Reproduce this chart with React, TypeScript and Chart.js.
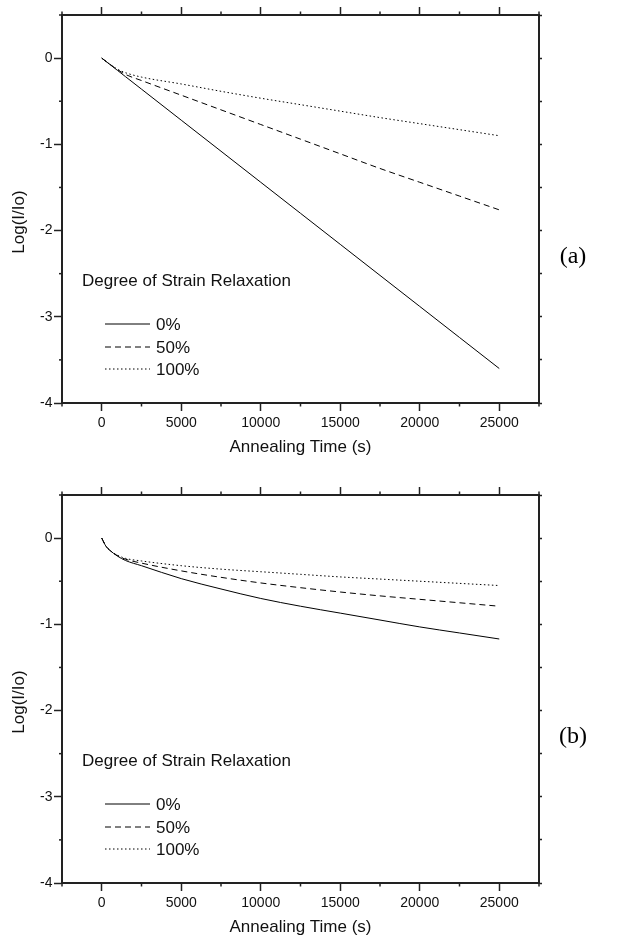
import React, { useEffect, useRef } from "react";
import { Chart, registerables } from "chart.js";

Chart.register(...registerables);

// ---------- data ----------
const timeA = [0, 500, 1000, 1500, 2500, 5000, 7500, 10000, 12500, 15000, 17500, 20000, 22500, 25000];
const logA0 = [0, -0.072, -0.144, -0.216, -0.36, -0.72, -1.08, -1.44, -1.8, -2.16, -2.52, -2.88, -3.24, -3.6];
const logA50 = [0, -0.07, -0.135, -0.19, -0.26, -0.43, -0.6, -0.77, -0.94, -1.11, -1.28, -1.44, -1.6, -1.76];
const logA100 = [0, -0.07, -0.13, -0.17, -0.22, -0.3, -0.385, -0.465, -0.54, -0.615, -0.69, -0.76, -0.83, -0.9];

const timeB = [0, 250, 500, 1000, 1500, 2500, 5000, 7500, 10000, 12500, 15000, 17500, 20000, 22500, 25000];
const logB0 = [0, -0.09, -0.14, -0.21, -0.26, -0.32, -0.47, -0.59, -0.7, -0.79, -0.87, -0.95, -1.03, -1.1, -1.17];
const logB50 = [0, -0.09, -0.14, -0.205, -0.245, -0.29, -0.38, -0.455, -0.52, -0.575, -0.625, -0.67, -0.71, -0.75, -0.79];
const logB100 = [0, -0.09, -0.14, -0.2, -0.235, -0.265, -0.32, -0.36, -0.39, -0.42, -0.45, -0.475, -0.5, -0.525, -0.55];

const seriesNames = ["0%", "50%", "100%"];
const panelLabels = ["(a)", "(b)"];
const legendTitle = "Degree of Strain Relaxation";
const xTitle = "Annealing Time (s)";
const yTitle = "Log(I/Io)";

const xTickValues = [-2500, 0, 2500, 5000, 7500, 10000, 12500, 15000, 17500, 20000, 22500, 25000, 27500];
const xTickLabels = ["0", "5000", "10000", "15000", "20000", "25000"];
const yTickValues = [-4, -3.5, -3, -2.5, -2, -1.5, -1, -0.5, 0, 0.5];
const yTickLabels = ["0", "-1", "-2", "-3", "-4"];
const X_MIN = -2500;
const X_MAX = 27500;
const Y_MIN = -4;
const Y_MAX = 0.5;

// ---------- styles ----------
const SANS = "'Liberation Sans', Arial, sans-serif";
const SERIF = "'Liberation Serif', 'Times New Roman', serif";
const FRAME = "#222";
const DASHES: number[][] = [[], [6, 4], [1.5, 2.5]];

Chart.defaults.font.family = SANS;

const isLabeledX = (v: number) => xTickLabels.includes(String(v));
const isLabeledY = (v: number) => yTickLabels.includes(String(v));

const extrasPlugin = {
  id: "extras",
  afterDraw(chart: any, _args: any, opts: any) {
    const { ctx, chartArea: a, scales } = chart;
    const line = (x1: number, y1: number, x2: number, y2: number) => {
      ctx.beginPath();
      ctx.moveTo(x1, y1);
      ctx.lineTo(x2, y2);
      ctx.stroke();
    };
    ctx.save();
    ctx.strokeStyle = FRAME;
    ctx.lineWidth = 1.5;
    // minor ticks
    for (const t of scales.x.ticks) {
      if (!isLabeledX(t.value)) {
        const px = scales.x.getPixelForValue(t.value);
        line(px, a.bottom, px, a.bottom + 3.5);
        line(px, a.top, px, a.top - 3.5);
      }
    }
    for (const t of scales.y.ticks) {
      if (!isLabeledY(t.value)) {
        const py = scales.y.getPixelForValue(t.value);
        line(a.left - 3, py, a.left, py);
      }
    }
    // y title
    ctx.fillStyle = "#111";
    ctx.save();
    ctx.translate(a.left - 43, a.top + 207);
    ctx.rotate(-Math.PI / 2);
    ctx.font = `17px ${SANS}`;
    ctx.textAlign = "center";
    ctx.textBaseline = "middle";
    ctx.fillText(yTitle, 0, 0);
    ctx.restore();

    // legend
    ctx.font = `17px ${SANS}`;
    ctx.textAlign = "left";
    ctx.textBaseline = "middle";
    ctx.fillText(legendTitle, a.left + 20, a.top + 266);
    const rows = [a.top + 309, a.top + 332, a.top + 354];
    chart.data.datasets.forEach((ds: any, i: number) => {
      ctx.save();
      ctx.strokeStyle = "#000";
      ctx.lineWidth = 1;
      ctx.setLineDash(ds.borderDash || []);
      line(a.left + 43, rows[i], a.left + 88, rows[i]);
      ctx.restore();
      ctx.fillText(ds.label, a.left + 94, rows[i] + 1);
    });

    // panel label
    ctx.font = `24px ${SERIF}`;
    ctx.textAlign = "center";
    ctx.fillStyle = "#000";
    ctx.fillText(opts.panel, a.right + 34, a.top + 242);
    ctx.restore();
  },
};

function makeConfig(time: number[], series: number[][], panel: string, H: number): any {
  const datasets = series.map((vals, i) => ({
    label: seriesNames[i],
    data: time.map((t, j) => ({ x: t, y: vals[j] })),
    showLine: true,
    borderColor: "#000",
    borderWidth: 1,
    borderDash: DASHES[i],
    pointRadius: 0,
    fill: false,
    cubicInterpolationMode: "monotone",
  }));
  const setXTicks = (s: any) => {
    s.ticks = xTickValues.map((v) => ({ value: v }));
  };
  const setYTicks = (s: any) => {
    s.ticks = yTickValues.map((v) => ({ value: v }));
  };
  const xTickColor = (c: any) => (c.tick && isLabeledX(c.tick.value) ? FRAME : "rgba(0,0,0,0)");
  const yTickColor = (c: any) => (c.tick && isLabeledY(c.tick.value) ? FRAME : "rgba(0,0,0,0)");
  const border = { display: true, color: FRAME, width: 2 };
  return {
    type: "scatter",
    data: { datasets },
    plugins: [extrasPlugin],
    options: {
      animation: false,
      responsive: false,
      devicePixelRatio: 1,
      layout: { padding: 0 },
      plugins: {
        legend: { display: false },
        tooltip: { enabled: false },
        extras: { panel },
      },
      scales: {
        x: {
          type: "linear",
          position: "bottom",
          min: X_MIN,
          max: X_MAX,
          afterBuildTicks: setXTicks,
          afterFit: (s: any) => {
            s.height = H - 403;
          },
          ticks: {
            autoSkip: false,
            maxRotation: 0,
            padding: 3.5,
            color: "#111",
            font: { size: 14 },
            callback: (v: any) => (isLabeledX(v) ? String(v) : ""),
          },
          grid: { drawOnChartArea: false, drawTicks: true, tickLength: 8, tickWidth: 1.5, tickColor: xTickColor },
          border,
          title: {
            display: true,
            text: xTitle,
            color: "#111",
            font: { size: 17 },
            padding: { top: 0, bottom: H - 447 - 10.2 },
          },
        },
        x2: {
          type: "linear",
          position: "top",
          min: X_MIN,
          max: X_MAX,
          afterBuildTicks: setXTicks,
          afterFit: (s: any) => {
            s.height = 15;
          },
          ticks: { display: false },
          grid: { drawOnChartArea: false, drawTicks: true, tickLength: 8, tickWidth: 1.5, tickColor: xTickColor },
          border,
        },
        y: {
          type: "linear",
          position: "left",
          min: Y_MIN,
          max: Y_MAX,
          afterBuildTicks: setYTicks,
          afterFit: (s: any) => {
            s.width = 62;
          },
          ticks: {
            autoSkip: false,
            padding: 1.5,
            color: "#111",
            font: { size: 14 },
            callback: (v: any) => (isLabeledY(v) ? String(v) : ""),
          },
          grid: { drawOnChartArea: false, drawTicks: true, tickLength: 8, tickWidth: 1.5, tickColor: yTickColor },
          border,
        },
        y2: {
          type: "linear",
          position: "right",
          min: Y_MIN,
          max: Y_MAX,
          afterBuildTicks: setYTicks,
          afterFit: (s: any) => {
            s.width = 82;
          },
          ticks: { display: false },
          grid: { drawOnChartArea: false, drawTicks: true, tickLength: 3, tickWidth: 1.5, tickColor: FRAME },
          border,
        },
      },
    },
  };
}

export default function App() {
  const ref1 = useRef<HTMLCanvasElement>(null);
  const ref2 = useRef<HTMLCanvasElement>(null);
  useEffect(() => {
    document.body.style.margin = "0";
    const c1 = new Chart(ref1.current as HTMLCanvasElement, makeConfig(timeA, [logA0, logA50, logA100], panelLabels[0], 480));
    const c2 = new Chart(ref2.current as HTMLCanvasElement, makeConfig(timeB, [logB0, logB50, logB100], panelLabels[1], 458));
    return () => {
      c1.destroy();
      c2.destroy();
    };
  }, []);
  return (
    <div style={{ position: "relative", width: 621, height: 938, overflow: "hidden", background: "#fff" }}>
      <canvas
        ref={ref1}
        width={621}
        height={480}
        style={{ position: "absolute", left: 0, top: 0, width: 621, height: 480 }}
      />
      <canvas
        ref={ref2}
        width={621}
        height={458}
        style={{ position: "absolute", left: 0, top: 480, width: 621, height: 458 }}
      />
    </div>
  );
}
